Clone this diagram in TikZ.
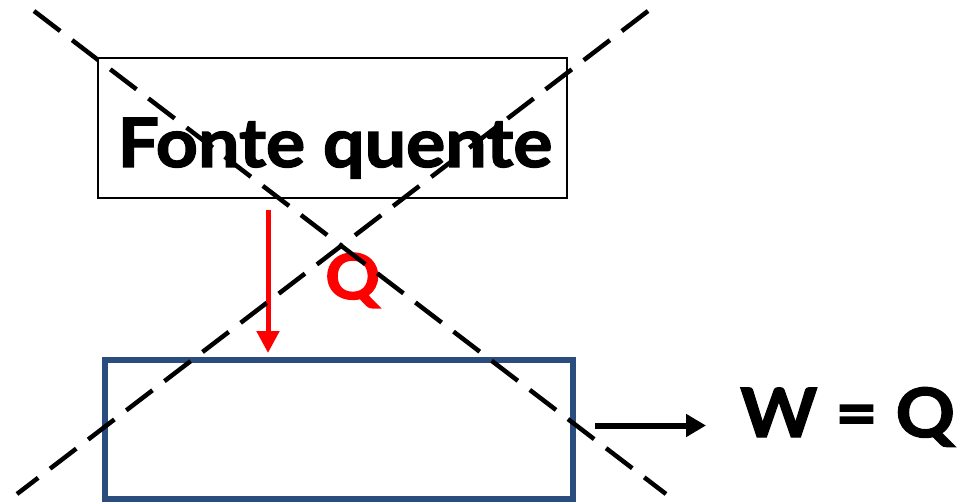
\documentclass[tikz,border=0pt]{standalone}
\usepackage{fontspec}
\setmainfont{Lato}[BoldFeatures={FakeBold=2, FakeStretch=1.08}]
\usetikzlibrary{arrows.meta,positioning,calc}
\definecolor{EngBlue}{HTML}{2A4D7E}
\definecolor{HeatRed}{HTML}{FF0000}

\begin{document}
\begin{tikzpicture}[x=1pt,y=-1pt,
  hotbox/.style={draw=black, line width=2pt, minimum width=469pt, minimum height=140pt, inner sep=0pt},
  engbox/.style={draw=EngBlue, line width=6pt, minimum width=468pt, minimum height=139pt, inner sep=0pt},
  bigtext/.style={font=\fontsize{68}{80}\selectfont\bfseries, inner sep=0pt},
  qtext/.style={font=\fontsize{63}{70}\selectfont\bfseries, text=HeatRed, inner sep=0pt},
  heat/.style={-{Triangle[length=22pt, width=22pt]}, line width=5pt, draw=HeatRed},
  work/.style={-{Triangle[length=20pt, width=22pt]}, line width=6pt, draw=black},
  crossline/.style={dash pattern=on 33pt off 15pt, line width=4.5pt}]
  \useasboundingbox (0,0) rectangle (960,502);
  \node[hotbox] (hot) at (332.5,128) {};
  \node[bigtext, anchor=base] (hotlbl) at (335,167) {Fonte quente};
  \node[engbox] (eng) at (339,429.5) {};
  \node[bigtext, anchor=base west] (wq) at (740,437) {W = Q};
  \node[qtext, anchor=base west] (q) at (325,299) {Q};
  \coordinate (qx) at (268,0);
  \draw[heat, shorten <=11pt, shorten >=4pt] (qx |- hot.south) -- (qx |- eng.north);
  \draw[work, shorten <=19pt, shorten >=34pt] ([yshift=4pt]eng.east) -- ([yshift=4pt]eng.east -| wq.west);
  % the two crossing lines
  \coordinate (c1a) at (34,11); \coordinate (c1b) at (666,494);
  \coordinate (c2a) at (648,11); \coordinate (c2b) at (17,494);
  \draw[crossline] (c1a) -- (c1b);
  \draw[crossline] (c2a) -- (c2b);
\end{tikzpicture}
\end{document}
